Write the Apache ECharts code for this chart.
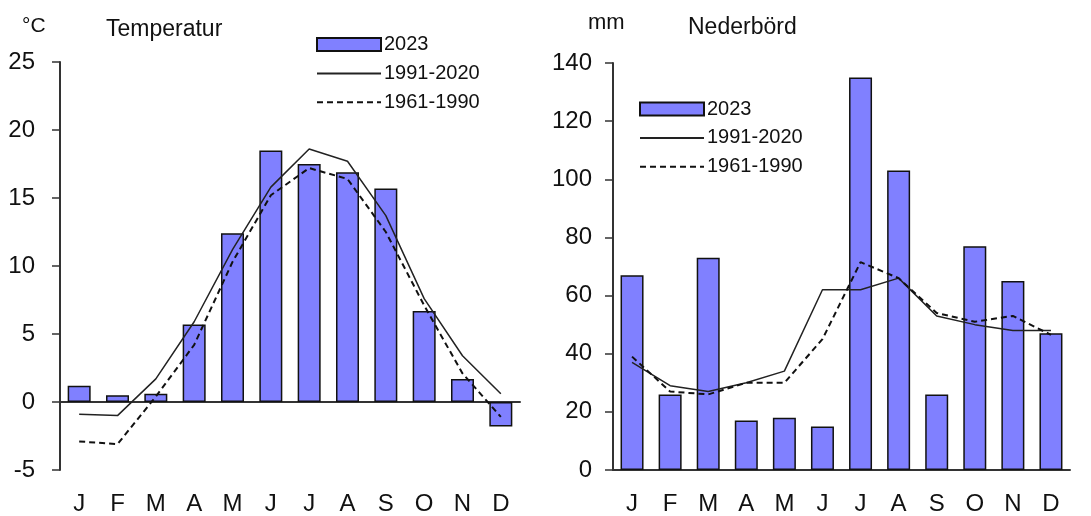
<!DOCTYPE html>
<html>
<head>
<meta charset="utf-8">
<script src="https://cdn.jsdelivr.net/npm/echarts@6/dist/echarts.min.js"></script>
<style>
html,body{margin:0;padding:0;background:#fff;}
#c{width:1091px;height:516px;}
</style>
</head>
<body>
<div id="c"></div>
<script>
const months = ['J','F','M','A','M','J','J','A','S','O','N','D'];
const tempTicks = [-5, 0, 5, 10, 15, 20, 25];
const precTicks = [0, 20, 40, 60, 80, 100, 120, 140];

const temp2023 = [1.2, 0.5, 0.6, 5.7, 12.4, 18.5, 17.5, 16.9, 15.7, 6.7, 1.7, -1.8];
const temp1991 = [-0.9, -1.0, 1.7, 5.9, 11.2, 15.8, 18.6, 17.7, 13.7, 7.6, 3.4, 0.6];
const temp1961 = [-2.9, -3.1, 0.4, 4.2, 10.3, 15.2, 17.2, 16.4, 12.5, 7.1, 2.1, -1.1];

const prec2023 = [67, 26, 73, 17, 18, 15, 135, 103, 26, 77, 65, 47];
const prec1991 = [37, 29, 27, 30, 34, 62, 62, 66, 53, 50, 48, 48];
const prec1961 = [39, 27, 26, 30, 30, 45, 71.5, 66, 54, 51, 53, 46.5];

const FONT = "'Liberation Sans', Arial, sans-serif";
const TXT = '#111';
const BARCOL = '#8080ff';

const chart = echarts.init(document.getElementById('c'), null, {renderer: 'canvas'});

function yAxis(gi, min, max, interval, margin) {
  return {
    type: 'value', gridIndex: gi, min: min, max: max, interval: interval,
    splitLine: {show: false},
    axisLine: {show: true, lineStyle: {color: '#333', width: 2}},
    axisTick: {show: true, length: 8, lineStyle: {color: '#333', width: 1.5}},
    axisLabel: {margin: margin, color: TXT, fontSize: 24, fontFamily: FONT}
  };
}

function barSeries(name, data, idx) {
  return {
    name: name, type: 'bar', xAxisIndex: idx, yAxisIndex: idx, data: data,
    barWidth: 23,
    itemStyle: {color: BARCOL, borderColor: '#111', borderWidth: 1.5},
    z: 2
  };
}
function lineSeries(name, data, idx, dashed) {
  return {
    name: name, type: 'line', xAxisIndex: idx, yAxisIndex: idx, data: data,
    symbol: 'none',
    lineStyle: dashed ? {color: '#111', width: 2, type: [6, 4]} : {color: '#222', width: 1.5},
    itemStyle: {color: '#111'},
    z: 3
  };
}

function makeLegend(left, top) {
  return {
    left: left, top: top, padding: 0,
    orient: 'vertical', itemWidth: 64, itemHeight: 13, itemGap: 8.9,
    textStyle: {color: TXT, fontSize: 20, lineHeight: 20, fontFamily: FONT, padding: [0, 0, 0, -2]},
    data: [
      {name: '2023', icon: 'rect'},
      {name: '1991-2020', itemStyle: {opacity: 0}},
      {name: '1961-1990', itemStyle: {opacity: 0}}
    ],
    selectedMode: false
  };
}

const option = {
  animation: false,
  backgroundColor: '#fff',
  textStyle: {fontFamily: FONT},
  grid: [
    {left: 60, top: 62, width: 460, height: 410},
    {left: 613, top: 63, width: 457, height: 411}
  ],
  graphic: [
    {type: 'text', left: 22, top: 16, style: {text: '°C', fontSize: 21, fontFamily: FONT, fill: TXT}},
    {type: 'text', left: 106, top: 18, style: {text: 'Temperatur', fontSize: 23, fontFamily: FONT, fill: TXT}},
    {type: 'text', left: 588, top: 12, style: {text: 'mm', fontSize: 22, fontFamily: FONT, fill: TXT}},
    {type: 'text', left: 688, top: 16, style: {text: 'Nederbörd', fontSize: 23, fontFamily: FONT, fill: TXT}}
  ],
  legend: [makeLegend(316, 34.5), makeLegend(639, 99)],
  xAxis: [
    {type: 'category', gridIndex: 0, data: months,
      axisLine: {show: true, onZero: true, lineStyle: {color: '#333', width: 2}},
      axisTick: {show: false}, axisLabel: {show: false}},
    {type: 'category', gridIndex: 1, data: months,
      axisLine: {show: true, onZero: true, lineStyle: {color: '#333', width: 2}},
      axisTick: {show: false},
      axisLabel: {margin: 22, color: TXT, fontSize: 24, fontFamily: FONT}},
    {type: 'category', gridIndex: 0, data: months, position: 'bottom',
      axisLine: {show: false, onZero: false}, axisTick: {show: false},
      axisLabel: {margin: 22, color: TXT, fontSize: 24, fontFamily: FONT}}
  ],
  yAxis: [
    yAxis(0, tempTicks[0], tempTicks[tempTicks.length - 1], 5, 25),
    yAxis(1, precTicks[0], precTicks[precTicks.length - 1], 20, 21),
    yAxis(0, tempTicks[0], tempTicks[tempTicks.length - 1], 5, 25)
  ],
  series: [
    barSeries('2023', temp2023, 0),
    lineSeries('1991-2020', temp1991, 0, false),
    lineSeries('1961-1990', temp1961, 0, true),
    barSeries('2023', prec2023, 1),
    lineSeries('1991-2020', prec1991, 1, false),
    lineSeries('1961-1990', prec1961, 1, true)
  ]
};
option.yAxis[2].show = false;
chart.setOption(option);
</script>
</body>
</html>
